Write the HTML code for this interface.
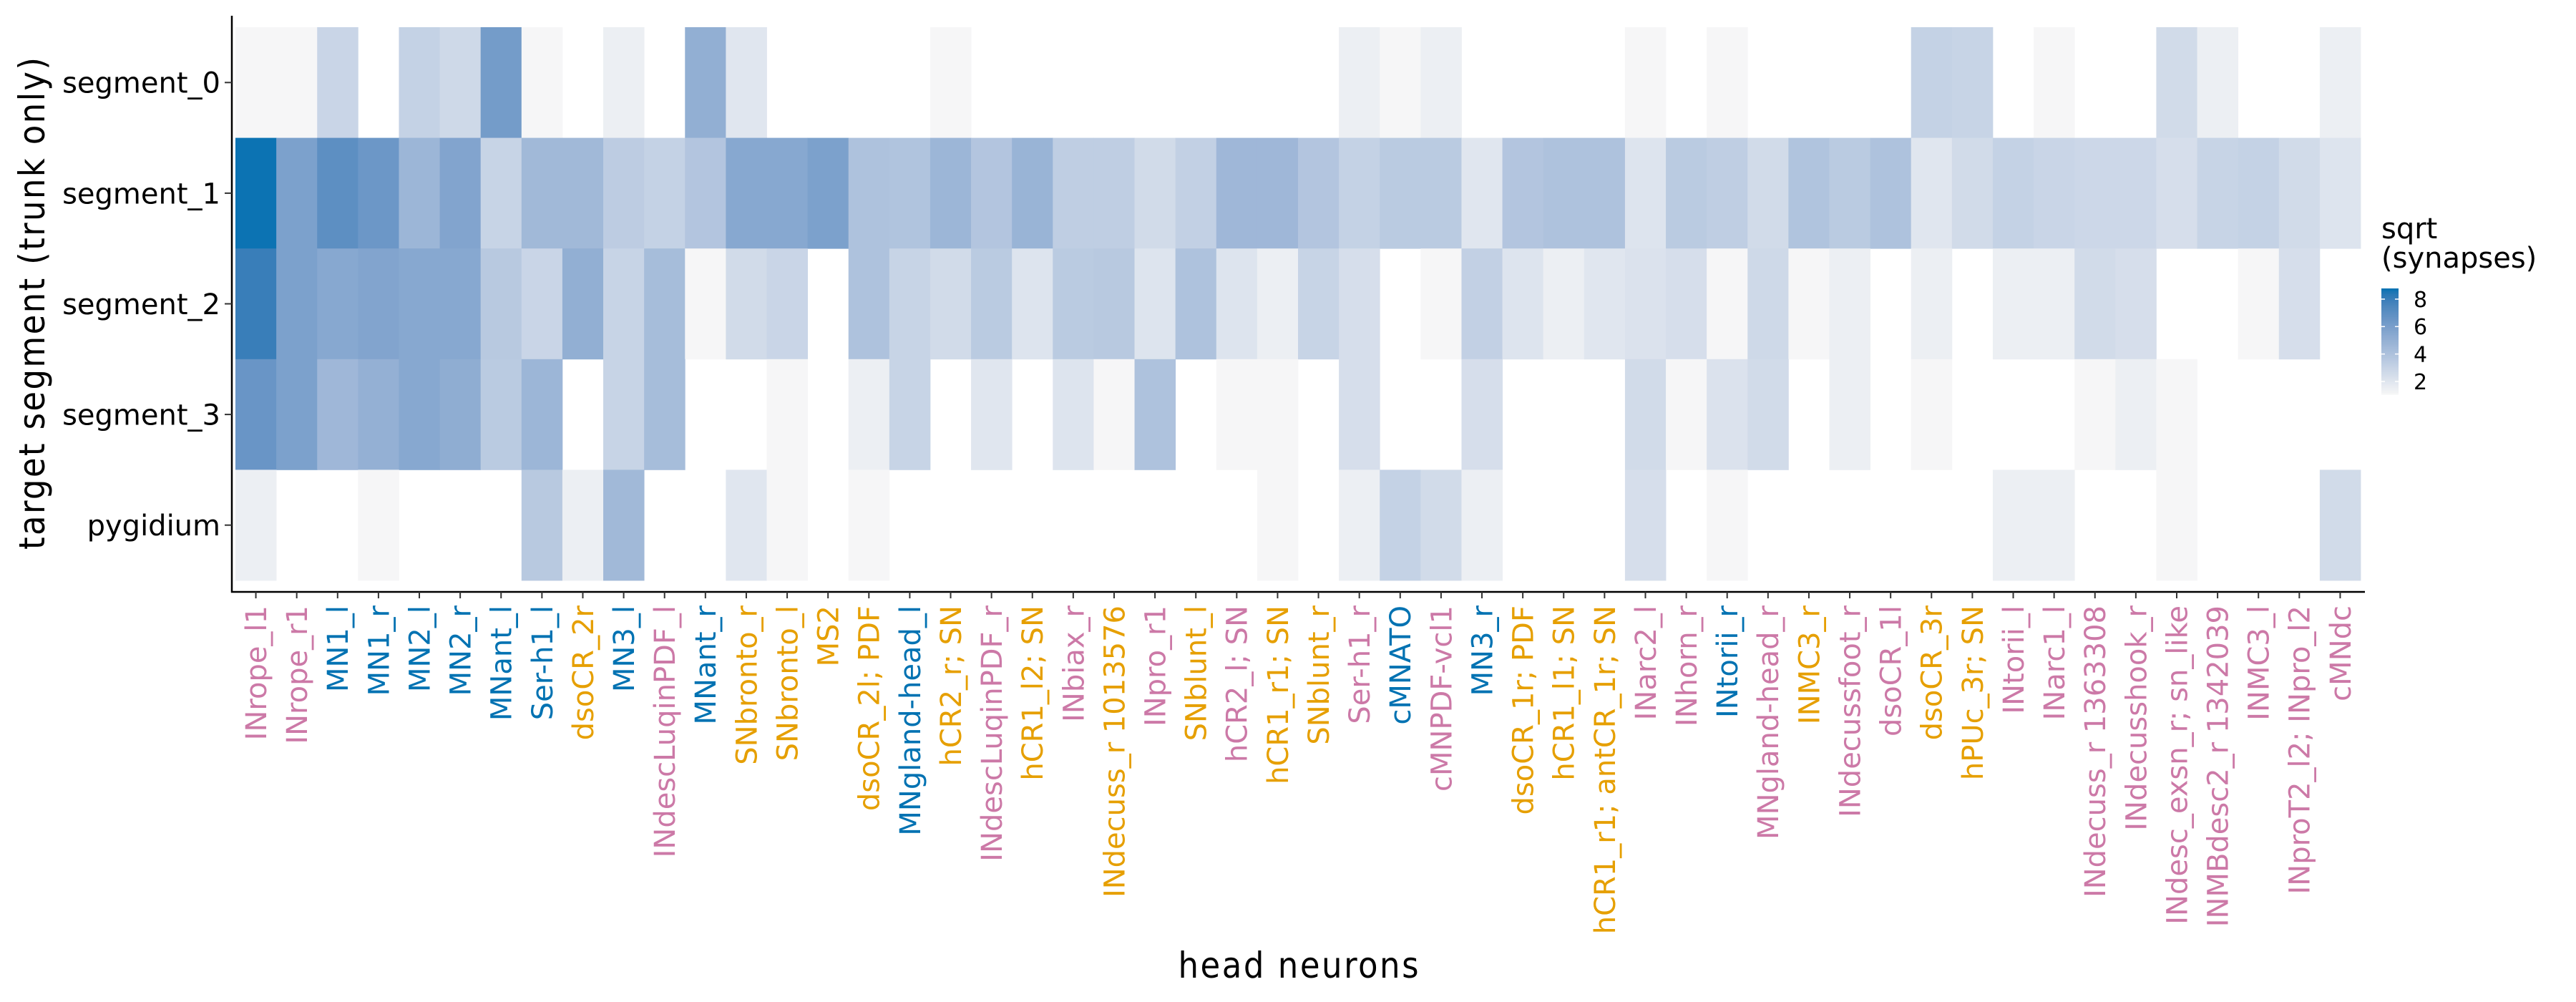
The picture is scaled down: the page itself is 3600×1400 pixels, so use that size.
<!DOCTYPE html>
<html><head><meta charset="utf-8"><style>
html,body{margin:0;padding:0;background:#fff;width:3600px;height:1400px;overflow:hidden}
svg{display:block}
</style></head><body>
<svg id="chart" xmlns="http://www.w3.org/2000/svg" width="3600" height="1400" viewBox="0 0 3600 1400">
<g id="cells"></g>
<g id="axes"></g>
<g id="legend"></g>
</svg>
<script>
const neurons = ["INrope_l1","INrope_r1","MN1_l","MN1_r","MN2_l","MN2_r","MNant_l","Ser-h1_l","dsoCR_2r","MN3_l","INdescLuqinPDF_l","MNant_r","SNbronto_r","SNbronto_l","MS2","dsoCR_2l; PDF","MNgland-head_l","hCR2_r; SN","INdescLuqinPDF_r","hCR1_l2; SN","INbiax_r","INdecuss_r 1013576","INpro_r1","SNblunt_l","hCR2_l; SN","hCR1_r1; SN","SNblunt_r","Ser-h1_r","cMNATO","cMNPDF-vcl1","MN3_r","dsoCR_1r; PDF","hCR1_l1; SN","hCR1_r1; antCR_1r; SN","INarc2_l","INhorn_r","INtorii_r","MNgland-head_r","INMC3_r","INdecussfoot_r","dsoCR_1l","dsoCR_3r","hPUc_3r; SN","INtorii_l","INarc1_l","INdecuss_r 1363308","INdecusshook_r","INdesc_exsn_r; sn_like","INMBdesc2_r 1342039","INMC3_l","INproT2_l2; INpro_l2","cMNdc"];
const neuronClass = ["p","p","b","b","b","b","b","b","o","b","p","b","o","o","o","o","b","o","p","o","p","o","p","o","p","o","o","p","b","p","b","o","o","o","p","p","b","p","o","p","p","o","o","p","p","p","p","p","p","p","p","p"];
const segments = ["segment_0","segment_1","segment_2","segment_3","pygidium"];
const seg0 = [1.1,1.1,2.9,0,3.1,2.7,6.2,1.1,0,1.5,0,5.1,2,0,0,0,0,1.1,0,0, 0,0,0,0,0,0,0,1.5,1.1,1.5,0,0,0,0,1.1,0,1.1,0,0,0, 0,3.1,3,0,1.1,0,0,2.6,1.5,0,0,1.5];
const seg1 = [8.7,5.9,7,6.5,4.7,5.7,3,4.5,4.5,3.4,3.1,3.8,5.5,5.5,5.9,4,3.9,4.7,3.8,4.8, 3.3,3.3,2.6,3.2,4.6,4.6,3.8,3.1,3.5,3.5,2,3.8,4,4,2.1,3.5,3.3,2.6,3.9,3.5, 4,2,2.6,3.1,2.9,2.8,2.8,2.4,3,3.1,2.6,2.1];
const seg2 = [8,5.9,5.5,5.7,5.5,5.5,3.6,2.9,5.1,3,4.3,1.1,2.6,2.9,0,4,3,2.6,3.5,2.1, 3.5,3.6,2.1,4,2.1,1.5,3,2.4,0,1.1,3.2,2.1,1.5,2,2.2,2.4,1.1,2.7,1.1,1.5, 0,1.5,0,1.5,1.5,2.6,2.4,0,0,1.1,2.4,0];
const seg3 = [6.6,5.9,4.6,5,5.5,5.2,3.5,4.7,0,3,4.3,0,0,1.1,0,1.5,3,0,2,0, 2.1,1.1,4,0,1.1,1.1,0,2.4,0,0,2.4,0,0,0,2.6,1.1,2.2,2.6,0,1.5, 0,1.1,0,0,0,1.1,1.5,1.1,0,0,0,0];
const pyg = [1.5,0,0,1.1,0,0,0,3.6,1.5,4.5,0,0,2,1.1,0,1.1,0,0,0,0, 0,0,0,0,0,1.1,0,1.5,3.1,2.6,1.5,0,0,0,2.4,0,1.1,0,0,0, 0,0,0,1.5,1.5,0,0,1.1,0,0,0,2.6];
const legendTicks = [2,4,6,8];

const NS="http://www.w3.org/2000/svg";
const rows=[seg0,seg1,seg2,seg3,pyg];
const PX0=329, PX1=3299, PY0=38, PY1=811;
const AXL=324, AXB=827, AXR=3305;
const colW=(PX1-PX0)/neurons.length, rowH=(PY1-PY0)/segments.length;
const xPos=i=>PX0+i*colW;
const yPos=j=>PY0+j*rowH;
const VMIN=1.06, VMAX=8.78;
const classColor={p:"#CC79A7",b:"#0072B2",o:"#E69F00"};

function hex2rgb(h){return [1,3,5].map(i=>parseInt(h.substr(i,2),16)/255);}
function lin(c){return c<=0.04045?c/12.92:Math.pow((c+0.055)/1.055,2.4);}
function delin(c){return c<=0.0031308?12.92*c:1.055*Math.pow(c,1/2.4)-0.055;}
function toLab(h){const [r,g,b]=hex2rgb(h).map(lin);
 let X=(0.4124*r+0.3576*g+0.1805*b)/0.95047,Y=0.2126*r+0.7152*g+0.0722*b,Z=(0.0193*r+0.1192*g+0.9505*b)/1.08883;
 const f=t=>t>0.008856?Math.cbrt(t):7.787*t+16/116;
 return [116*f(Y)-16,500*(f(X)-f(Y)),200*(f(Y)-f(Z))];}
function fromLab(L,a,bb){const fy=(L+16)/116,fx=fy+a/500,fz=fy-bb/200;
 const fi=t=>t*t*t>0.008856?t*t*t:(t-16/116)/7.787;
 const X=fi(fx)*0.95047,Y=fi(fy),Z=fi(fz)*1.08883;
 let r=3.2406*X-1.5372*Y-0.4986*Z,g=-0.9689*X+1.8758*Y+0.0415*Z,b=0.0557*X-0.2040*Y+1.0570*Z;
 return "rgb("+[r,g,b].map(c=>Math.round(Math.max(0,Math.min(1,delin(c)))*255)).join(",")+")";}
const LO=toLab("#f7f7f7"), HI=toLab("#0072b2");
function colorFor(v){let t=(v-VMIN)/(VMAX-VMIN);t=Math.max(0,Math.min(1,t));
 return fromLab(LO[0]+(HI[0]-LO[0])*t,LO[1]+(HI[1]-LO[1])*t,LO[2]+(HI[2]-LO[2])*t);}
function mk(tag,attrs,parent){const e=document.createElementNS(NS,tag);for(const k in attrs)e.setAttribute(k,attrs[k]);parent.appendChild(e);return e;}

const cells=document.getElementById("cells");
rows.forEach((vals,j)=>{vals.forEach((v,i)=>{
 if(!v) return;
 const r=mk("rect",{x:xPos(i),y:yPos(j),width:colW+0.4,height:rowH+0.4,fill:colorFor(v)},cells);
 
 
});});

const axes=document.getElementById("axes");
const yl=mk("line",{x1:AXL,y1:22,x2:AXL,y2:AXB+1,stroke:"#000","stroke-width":2.5},axes);


const xl=mk("line",{x1:AXL-1,y1:AXB,x2:AXR,y2:AXB,stroke:"#000","stroke-width":2.5},axes);


segments.forEach((s,j)=>{
 const cy=yPos(j)+rowH/2;
 mk("line",{x1:AXL-10,y1:cy,x2:AXL,y2:cy,stroke:"#333","stroke-width":2},axes);
 const t=mk("text",{x:308,y:cy,"text-anchor":"end",dy:"0.36em","font-family":"DejaVu Sans, sans-serif","font-size":40,fill:"#000"},axes);
 t.textContent=s;
 
 
});
neurons.forEach((n,i)=>{
 const cx=xPos(i)+colW/2;
 mk("line",{x1:cx,y1:AXB,x2:cx,y2:AXB+9,stroke:"#333","stroke-width":2},axes);
 const t=mk("text",{x:0,y:0,transform:`translate(${cx},846) rotate(-90)`,"text-anchor":"end",dy:"0.36em","font-family":"DejaVu Sans, sans-serif","font-size":40,fill:classColor[neuronClass[i]]},axes);
 t.textContent=n;
 
 
});
const xt=mk("text",{x:(AXL+AXR)/2,y:1366,"text-anchor":"middle","font-family":"DejaVu Sans Condensed, Liberation Sans, sans-serif","font-size":50,textLength:336,fill:"#000"},axes);
xt.textContent="head neurons";


const yt=mk("text",{x:0,y:0,transform:"translate(62,424) rotate(-90)","text-anchor":"middle","font-family":"DejaVu Sans Condensed, Liberation Sans, sans-serif","font-size":50,textLength:688,fill:"#000"},axes);
yt.textContent="target segment (trunk only)";



const lg=document.getElementById("legend");
const t1=mk("text",{x:3328,y:333,"font-family":"DejaVu Sans, sans-serif","font-size":40,fill:"#000"},lg);
t1.textContent="sqrt";


const t2=mk("text",{x:3328,y:374,"font-family":"DejaVu Sans, sans-serif","font-size":40,fill:"#000"},lg);
t2.textContent="(synapses)";


const LB0=403, LB1=551, LX=3328, LW=24;
const lv=v=>LB1-(v-VMIN)/(VMAX-VMIN)*(LB1-LB0);
const steps=60;
for(let k=0;k<steps;k++){
 const v0=VMIN+(VMAX-VMIN)*k/steps, v1=VMIN+(VMAX-VMIN)*(k+1)/steps;
 const r=mk("rect",{x:LX,y:lv(v1),width:LW,height:lv(v0)-lv(v1)+0.5,fill:colorFor((v0+v1)/2)},lg);
 
 
}
legendTicks.forEach(v=>{
 const y=lv(v);
 mk("line",{x1:LX,y1:y,x2:LX+5,y2:y,stroke:"#fff","stroke-width":1.5},lg);
 mk("line",{x1:LX+LW-5,y1:y,x2:LX+LW,y2:y,stroke:"#fff","stroke-width":1.5},lg);
 const t=mk("text",{x:3373,y:y,dy:"0.36em","font-family":"DejaVu Sans, sans-serif","font-size":30,fill:"#000"},lg);
 t.textContent=String(v);
 
 
});
</script>
</body></html>
